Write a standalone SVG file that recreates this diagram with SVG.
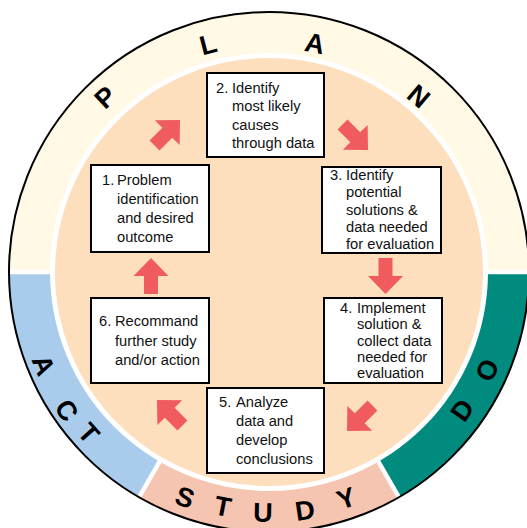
<svg xmlns="http://www.w3.org/2000/svg" width="527" height="528" viewBox="0 0 527 528">
<style>
.box{fill:#fff;stroke:#000;stroke-width:2}
.t{font-family:"Liberation Sans",Arial,Helvetica,sans-serif;font-size:14.7px;fill:#111}
.L{font-family:"Liberation Sans",Arial,Helvetica,sans-serif;font-size:27px;font-weight:bold;fill:#000;text-anchor:middle}
.arr{fill:#F05B5E}
.sep{stroke:#fff;stroke-width:4.5}
</style>
<defs>
<path id="arrow" d="M0,0 L-18,-17.5 L-18,-7 L-36,-7 L-36,7 L-18,7 L-18,17.5 Z"/>
</defs>
<rect width="527" height="528" fill="#fff"/>
<g id="ring">
<path id="plan-seg" d="M269,272 L9,272 A260,260 0 0 1 529,272 Z" fill="#FFF9E6"/>
<path id="do-seg" d="M269,272 L529,272 A260,260 0 0 1 399,497.2 Z" fill="#008B7E"/>
<path id="study-seg" d="M269,272 L399,497.2 A260,260 0 0 1 139,497.2 Z" fill="#F5C5B2"/>
<path id="act-seg" d="M269,272 L139,497.2 A260,260 0 0 1 9,272 Z" fill="#AACCEC"/>
<line class="sep" x1="0" y1="272" x2="527" y2="272"/>
<line class="sep" x1="269" y1="272" x2="404" y2="506"/>
<line class="sep" x1="269" y1="272" x2="134" y2="506"/>
<circle cx="269" cy="272" r="219" fill="#fff"/>
<circle cx="269" cy="272" r="214" fill="#FDDFBE"/>
<circle cx="269" cy="272" r="260" fill="none" stroke="#000" stroke-width="2"/>
</g>
<g id="ring-labels">
<text class="L" transform="translate(105,97) rotate(-42.8)" y="9.7">P</text>
<text class="L" transform="translate(208,44) rotate(-14.7)" y="9.7">L</text>
<text class="L" transform="translate(315,43) rotate(11.5)" y="9.7">A</text>
<text class="L" transform="translate(419,96) rotate(40.5)" y="9.7">N</text>
<text class="L" transform="translate(44,365) rotate(67.7)" y="9.7">A</text>
<text class="L" transform="translate(67,410) rotate(55.7)" y="9.7">C</text>
<text class="L" transform="translate(89,433) rotate(48.2)" y="9.7">T</text>
<text class="L" transform="translate(185,497) rotate(20.3)" y="9.7">S</text>
<text class="L" transform="translate(223,506) rotate(10.9)" y="9.7">T</text>
<text class="L" transform="translate(263,512) rotate(1.2)" y="9.7">U</text>
<text class="L" transform="translate(305,510) rotate(-8.9)" y="9.7">D</text>
<text class="L" transform="translate(346,498) rotate(-19.1)" y="9.7">Y</text>
<text class="L" transform="translate(462,410) rotate(-54.8)" y="9.7">D</text>
<text class="L" transform="translate(487,370) rotate(-66.1)" y="9.7">O</text>
</g>
<g id="connectors">
<use href="#arrow" class="arr" transform="translate(180,120) rotate(-45)"/>
<use href="#arrow" class="arr" transform="translate(368,150) rotate(45)"/>
<use href="#arrow" class="arr" transform="translate(385.5,294) rotate(90)"/>
<use href="#arrow" class="arr" transform="translate(347,431) rotate(135)"/>
<use href="#arrow" class="arr" transform="translate(157,400) rotate(-135)"/>
<use href="#arrow" class="arr" transform="translate(151,258) rotate(-90)"/>
</g>
<g id="node1">
<rect class="box" x="91" y="165" width="118" height="87"/>
<text class="t"><tspan x="102" y="185">1.</tspan><tspan x="117" y="185">Problem</tspan><tspan x="117" y="204">identification</tspan><tspan x="117" y="223">and desired</tspan><tspan x="117" y="242">outcome</tspan></text>
</g>
<g id="node2">
<rect class="box" x="207" y="73" width="117" height="84"/>
<text class="t"><tspan x="216" y="92.5">2.</tspan><tspan x="232" y="92.5">Identify</tspan><tspan x="232" y="111">most likely</tspan><tspan x="232" y="129.5">causes</tspan><tspan x="232" y="148">through data</tspan></text>
</g>
<g id="node3">
<rect class="box" x="322" y="167" width="119" height="86"/>
<text class="t"><tspan x="330" y="180">3.</tspan><tspan x="346" y="180">Identify</tspan><tspan x="346" y="197.3">potential</tspan><tspan x="346" y="214.6">solutions &amp;</tspan><tspan x="346" y="231.9">data needed</tspan><tspan x="346" y="249.2">for evaluation</tspan></text>
</g>
<g id="node4">
<rect class="box" x="324" y="298" width="118" height="85"/>
<text class="t"><tspan x="340" y="313">4.</tspan><tspan x="357" y="313">Implement</tspan><tspan x="357" y="329.3">solution &amp;</tspan><tspan x="357" y="345.6">collect data</tspan><tspan x="357" y="361.9">needed for</tspan><tspan x="357" y="378.2">evaluation</tspan></text>
</g>
<g id="node5">
<rect class="box" x="207" y="388" width="117" height="85"/>
<text class="t"><tspan x="219" y="407">5.</tspan><tspan x="236" y="407">Analyze</tspan><tspan x="236" y="426">data and</tspan><tspan x="236" y="445">develop</tspan><tspan x="236" y="464">conclusions</tspan></text>
</g>
<g id="node6">
<rect class="box" x="91" y="298" width="118" height="85"/>
<text class="t"><tspan x="99" y="326">6.</tspan><tspan x="115" y="326">Recommand</tspan><tspan x="115" y="345.5">further study</tspan><tspan x="115" y="365">and/or action</tspan></text>
</g>
</svg>
